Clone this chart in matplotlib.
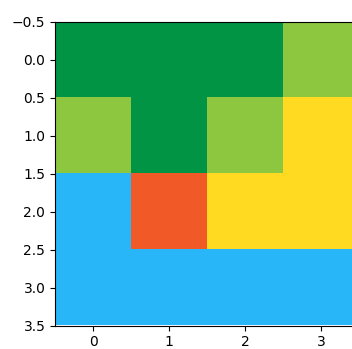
import matplotlib
matplotlib.use("Agg")
import matplotlib.pyplot as plt
from matplotlib.colors import ListedColormap, BoundaryNorm
import numpy as np

# category index per cell
grid = [
    [0, 0, 0, 1],
    [1, 0, 1, 2],
    [3, 4, 2, 2],
    [3, 3, 3, 3],
]
palette = ["#009444", "#8DC63F", "#FFDA21", "#29B6F8", "#F15A27"]
xticks = [0, 1, 2, 3]
yticks = [-0.5, 0.0, 0.5, 1.0, 1.5, 2.0, 2.5, 3.0, 3.5]

W, H = 352, 349
fig = plt.figure(figsize=(W / 100, H / 100), dpi=100)
left, right, top, bottom = 54.6, 359.5, 21.5, 325.5
ax = fig.add_axes([left / W, 1 - bottom / H, (right - left) / W, (bottom - top) / H])
cmap = ListedColormap(palette)
norm = BoundaryNorm(np.arange(len(palette) + 1) - 0.5, len(palette))
ax.imshow(np.array(grid), cmap=cmap, norm=norm, interpolation="nearest")
ax.set_xticks(xticks)
ax.set_yticks(yticks)
ax.set_yticklabels([f"{v:.1f}".replace("-", "\u2212") for v in yticks])
ax.tick_params(labelsize=10)
fig.savefig("out.png", dpi=100)
